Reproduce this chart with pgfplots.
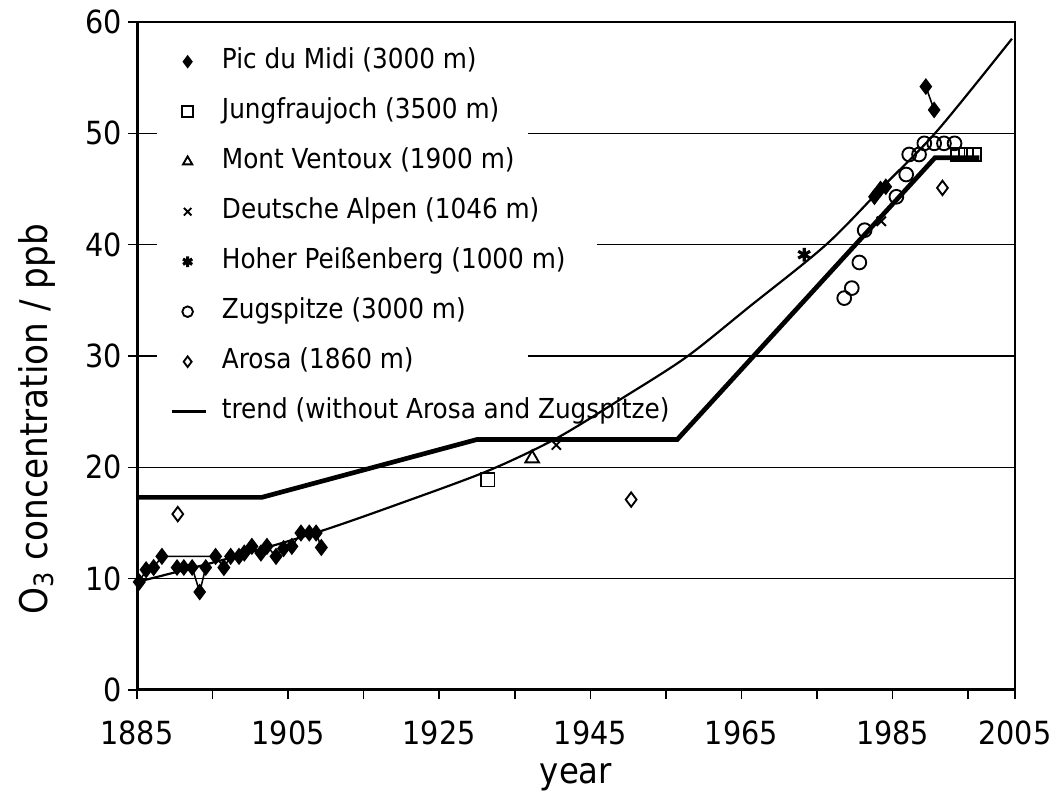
\documentclass[border=0pt]{standalone}
\usepackage{pgfplots}
\pgfplotsset{compat=1.18}
\usepackage{fontspec}
\setmainfont{DejaVu Sans Condensed}
\begin{document}
\begin{tikzpicture}
\useasboundingbox (-43.84pt,-33.28pt) rectangle (293.76pt,220.8pt);
\begin{axis}[
  at={(0,0)}, anchor=south west,
  scale only axis, width=280.96pt, height=213.76pt,
  xmin=1885, xmax=2001.2, ymin=0, ymax=60,
  xtick={1885,1905,1925,1945,1965,1985,2001.2},
  xticklabels={1885,1905,1925,1945,1965,1985,2005},
  minor xtick={1895,1915,1935,1955,1975,1995},
  ytick={0,10,...,60},
  tick align=outside, xtick pos=bottom, ytick pos=left,
  major tick length=3pt, minor tick length=3pt,
  tick style={black, line width=0.5pt},
  axis line style={black, line width=0.6pt},
  /pgf/number format/assume math mode=true,
  ticklabel style={font=\fontsize{10.2}{12}\selectfont},
  yticklabel style={inner sep=0pt, anchor=east, xshift=-1.6pt},
  xticklabel style={inner sep=0pt, anchor=north, yshift=-6.7pt},
  xlabel={year},
  ylabel={O\textsubscript{3} concentration / ppb},
  xlabel style={font=\fontsize{11.5}{13}\selectfont,
    at={(axis description cs:0.5,-0.1394)}, anchor=base},
  ylabel style={font=\fontsize{12.2}{14}\selectfont,
    at={(axis description cs:-0.1025,0.405)}, anchor=base},
  legend cell align=left,
  legend style={at={(axis description cs:0.0273,0.978)}, anchor=north west,
    draw=none, fill=none, inner sep=0pt, outer sep=0pt,
    row sep=0pt, column sep=1.45pt,
    font=\fontsize{8.8}{10}\selectfont,
    nodes={inner xsep=1pt, inner ysep=3.75pt,
           text height=6.5pt, text depth=2pt}},
  legend image code/.code={
    \path[draw=none, fill=none] (0pt,-8pt) rectangle (0.6cm,8pt);
    \draw[mark repeat=2,mark phase=2,#1,mark size=1.7pt] plot coordinates {(0cm,0cm) (0.3cm,0cm) (0.6cm,0cm)};},
  every axis plot/.append style={black, line width=0.6pt},
]

% horizontal grid lines, interrupted where the key sits
\draw[black, line width=0.5pt] (axis cs:1885,10) -- (axis cs:2001.2,10);
\draw[black, line width=0.5pt] (axis cs:1885,20) -- (axis cs:2001.2,20);
\draw[black, line width=0.5pt] (axis cs:1885,30) -- (axis cs:1887.7,30);
\draw[black, line width=0.5pt] (axis cs:1936.7,30) -- (axis cs:2001.2,30);
\draw[black, line width=0.5pt] (axis cs:1885,40) -- (axis cs:1887.7,40);
\draw[black, line width=0.5pt] (axis cs:1945.9,40) -- (axis cs:2001.2,40);
\draw[black, line width=0.5pt] (axis cs:1885,50) -- (axis cs:1887.7,50);
\draw[black, line width=0.5pt] (axis cs:1936.7,50) -- (axis cs:2001.2,50);

% Pic du Midi, early record
\addplot[only marks, mark=diamond*, mark size=2.3pt] coordinates {
  (1885.3,9.7) (1886.2,10.8) (1887.2,11.0) (1888.3,12.0) (1895.4,12.0)
  (1896.5,11.0) (1897.4,12.0) (1898.5,12.0) (1899.2,12.3) (1900.2,12.9)
  (1901.4,12.3) (1902.2,12.9) (1903.4,12.0) (1904.4,12.7) (1905.5,12.9)
  (1906.7,14.1) (1907.8,14.1) (1908.7,14.1) (1909.4,12.8)
};
\addlegendentry{Pic du Midi (3000 m)}

% Jungfraujoch
\addplot[only marks, mark=square, mark size=2.2pt] coordinates {
  (1931.4,18.9) (1993.6,48.1) (1994.7,48.1) (1995.8,48.1)
};
\addlegendentry{Jungfraujoch (3500 m)}

% Mont Ventoux
\addplot[only marks, mark=triangle, mark size=2.5pt] coordinates {
  (1937.3,20.8)
};
\addlegendentry{Mont Ventoux (1900 m)}

% Deutsche Alpen
\addplot[only marks, mark=x, mark size=2.1pt] coordinates {
  (1940.5,22.0) (1983.5,42.1)
};
\addlegendentry{Deutsche Alpen (1046 m)}

% Hoher Peissenberg
\addplot[only marks, mark=asterisk, mark size=2.2pt, line width=1pt] coordinates {
  (1973.3,39.1)
};
\addlegendentry{Hoher Peißenberg (1000 m)}

% Zugspitze
\addplot[only marks, mark=o, mark size=2.2pt] coordinates {
  (1978.6,35.2) (1979.6,36.1) (1980.6,38.4) (1981.3,41.3) (1985.5,44.3)
  (1986.8,46.3) (1987.2,48.1) (1988.5,48.1) (1989.2,49.1) (1990.5,49.1)
  (1991.8,49.1) (1993.2,49.1)
};
\addlegendentry{Zugspitze (3000 m)}

% Arosa
\addplot[only marks, mark=diamond, mark size=2.3pt] coordinates {
  (1890.4,15.8) (1950.4,17.1) (1991.6,45.1)
};
\addlegendentry{Arosa (1860 m)}

% piecewise trend
\addplot[line width=1.5pt, no marks,
  legend image code/.code={
    \path[draw=none, fill=none] (0pt,-8pt) rectangle (0.6cm,8pt);
    \draw[black, line width=0.8pt] (3.5pt,0pt) -- (14.3pt,0pt);}]
  coordinates {
  (1885,17.3) (1901.5,17.3) (1930,22.5) (1956.5,22.5) (1990.6,47.8) (1996.5,47.8)
};
\addlegendentry{trend (without Arosa and Zugspitze)}

% connecting lines of the Pic du Midi record
\addplot[forget plot, no marks, line width=0.5pt] coordinates {
  (1885.3,9.7) (1886.2,10.8) (1887.2,11.0) (1888.3,12.0) (1895.4,12.0)
  (1896.5,11.0) (1897.4,12.0) (1898.5,12.0) (1899.2,12.3) (1900.2,12.9)
  (1901.4,12.3) (1902.2,12.9) (1903.4,12.0) (1904.4,12.7) (1905.5,12.9)
  (1906.7,14.1) (1907.8,14.1) (1908.7,14.1) (1909.4,12.8)
};
% further Pic du Midi values
\addplot[forget plot, mark=diamond*, mark size=2.3pt, line width=0.5pt] coordinates {
  (1890.3,11.0) (1891.2,11.0) (1892.3,11.0) (1893.3,8.8) (1894.1,11.0)
};
\addplot[forget plot, mark=diamond*, mark size=2.3pt, line width=0.5pt] coordinates {
  (1982.6,44.3) (1983.4,45.0) (1984.1,45.2)
};
\addplot[forget plot, mark=diamond*, mark size=2.3pt, line width=0.5pt] coordinates {
  (1989.4,54.2) (1990.5,52.1)
};

% smooth long-term curve
\addplot[forget plot, no marks, smooth, tension=0.5, line width=0.7pt] coordinates {
  (1885,9.7) (1897,11.8) (1909,14.2) (1920,16.8) (1931.5,19.7) (1940.5,22.6)
  (1949.2,26.2) (1957.7,29.9) (1966,34.4) (1976.2,40.0) (1984,45.4)
  (1991,50.3) (2000.8,58.5)
};

\draw[line width=1pt] (rel axis cs:0,1) -- (rel axis cs:0,0) -- (rel axis cs:1,0);
\end{axis}
\end{tikzpicture}
\end{document}
